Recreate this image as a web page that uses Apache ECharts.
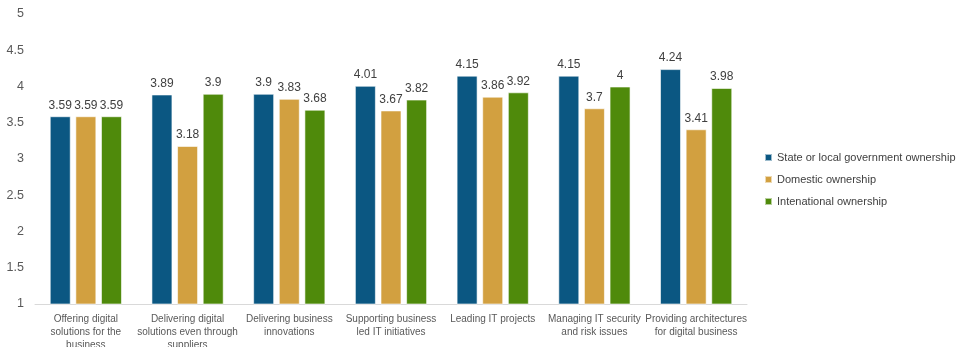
<!DOCTYPE html>
<html>
<head>
<meta charset="utf-8">
<script src="https://cdn.jsdelivr.net/npm/echarts@6/dist/echarts.min.js"></script>
<style>
  html, body { margin: 0; padding: 0; background: #fff; }
  #chart { width: 962px; height: 347px; }
</style>
</head>
<body>
<div id="chart"></div>
<script>
// Capability areas shown along the x axis
const categories = [
  'Offering digital\nsolutions for the\nbusiness',
  'Delivering digital\nsolutions even through\nsuppliers',
  'Delivering business\ninnovations',
  'Supporting business\nled IT initiatives',
  'Leading IT projects',
  'Managing IT security\nand risk issues',
  'Providing architectures\nfor digital business'
];

// Average scores per ownership type
const stateOwnership = [3.59, 3.89, 3.9, 4.01, 4.15, 4.15, 4.24];
const domesticOwnership = [3.59, 3.18, 3.83, 3.67, 3.86, 3.7, 3.41];
const internationalOwnership = [3.59, 3.9, 3.68, 3.82, 3.92, 4, 3.98];

const seriesNames = [
  'State or local government ownership',
  'Domestic ownership',
  'Intenational ownership'
];

const FONT = '"Liberation Sans", Arial, sans-serif';
const colors = ['#0b5782', '#d2a040', '#4f8a0b'];

function barSeries(name, data, color) {
  return {
    name: name,
    type: 'bar',
    data: data,
    barWidth: 21,
    barGap: '22%',
    itemStyle: { color: color, borderColor: 'rgba(255,255,255,0.6)', borderWidth: 1 },
    label: {
      show: true,
      position: 'top',
      distance: 5,
      color: '#404040',
      fontFamily: FONT,
      fontSize: 12
    }
  };
}

const chart = echarts.init(document.getElementById('chart'));
chart.setOption({
  animation: false,
  color: colors,
  grid: { left: 35, right: 215, top: 14, bottom: 43, containLabel: false, outerBoundsMode: 'none' },
  legend: {
    orient: 'vertical',
    left: 759,
    top: 147,
    itemWidth: 7,
    itemHeight: 7,
    itemGap: 11,
    icon: 'rect',
    textStyle: { color: '#404040', fontFamily: FONT, fontSize: 11 },
    data: seriesNames
  },
  xAxis: {
    type: 'category',
    data: categories,
    axisLine: { lineStyle: { color: '#d9d9d9', width: 1 } },
    axisTick: { show: false },
    axisLabel: {
      interval: 0,
      color: '#595959',
      fontFamily: FONT,
      fontSize: 10,
      lineHeight: 13,
      margin: 9
    }
  },
  yAxis: {
    type: 'value',
    min: 1,
    max: 5,
    interval: 0.5,
    splitLine: { show: false },
    axisLine: { show: false },
    axisTick: { show: false },
    axisLabel: { color: '#595959', fontFamily: FONT, fontSize: 12.5, margin: 11 }
  },
  series: [
    barSeries(seriesNames[0], stateOwnership, colors[0]),
    barSeries(seriesNames[1], domesticOwnership, colors[1]),
    barSeries(seriesNames[2], internationalOwnership, colors[2])
  ]
});
</script>
</body>
</html>
